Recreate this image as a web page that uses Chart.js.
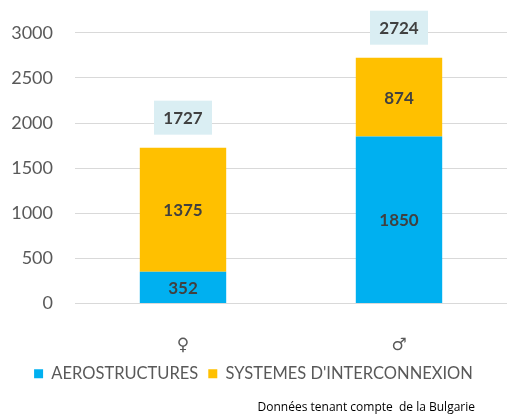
<!DOCTYPE html>
<html>
<head>
<meta charset="utf-8">
<script src="https://cdn.jsdelivr.net/npm/chart.js@4.4.1/dist/chart.umd.min.js"></script>
<style>
html,body{margin:0;padding:0;background:#fff;}
#wrap{width:507px;height:419px;}
</style>
</head>
<body>
<div id="wrap"><canvas id="c" width="507" height="419"></canvas></div>
<script>
const categories = ['\u2640', '\u2642'];
const aerostructures = [352, 1850];
const interconnexion = [1375, 874];
const totals = [1727, 2724];
const yTicks = [0, 500, 1000, 1500, 2000, 2500, 3000];
const seriesNames = ['AEROSTRUCTURES', "SYSTEMES D'INTERCONNEXION"];
const footnote = 'Données tenant compte  de la Bulgarie';

const FONT = 'Lato, "Liberation Sans", sans-serif';

const labelsPlugin = {
  id: 'labelsPlugin',
  afterDatasetsDraw(chart) {
    const ctx = chart.ctx;
    ctx.save();
    ctx.font = 'bold 17px ' + FONT;
    ctx.fillStyle = '#404040';
    ctx.textAlign = 'center';
    ctx.textBaseline = 'middle';
    chart.data.datasets.forEach((ds, di) => {
      const meta = chart.getDatasetMeta(di);
      meta.data.forEach((el, i) => {
        const y = (el.y + el.base) / 2;
        ctx.fillText(String(ds.data[i]), el.x, y + 1);
      });
    });
    const lastMeta = chart.getDatasetMeta(chart.data.datasets.length - 1);
    lastMeta.data.forEach((el, i) => {
      const top = chart.scales.y.getPixelForValue(totals[i]);
      const w = 58, h = 34;
      const bottom = top - 13;
      ctx.fillStyle = '#DAEEF3';
      ctx.fillRect(el.x - w / 2, bottom - h, w, h);
      ctx.fillStyle = '#404040';
      ctx.fillText(String(totals[i]), el.x, bottom - h / 2 + 1);
    });
    ctx.font = '12px "Open Sans", "Liberation Sans", sans-serif';
    ctx.fillStyle = '#000000';
    ctx.textAlign = 'right';
    ctx.fillText(footnote, chart.width - 32, chart.height - 11);
    ctx.restore();
  }
};

new Chart(document.getElementById('c'), {
  type: 'bar',
  data: {
    labels: categories,
    datasets: [
      { label: seriesNames[0], data: aerostructures, backgroundColor: '#00B0F0', borderWidth: 0 },
      { label: seriesNames[1], data: interconnexion, backgroundColor: '#FFC000', borderWidth: 0 }
    ]
  },
  options: {
    responsive: false,
    animation: false,
    devicePixelRatio: 1,
    layout: { padding: { top: 32, left: 0, right: 0, bottom: 27 } },
    datasets: { bar: { categoryPercentage: 1, barPercentage: 0.4 } },
    scales: {
      x: {
        stacked: true,
        afterFit(scale) { scale.height = 52; },
        grid: { display: false, drawTicks: false },
        border: { display: false },
        ticks: { font: { family: '"DejaVu Sans", sans-serif', size: 17 }, color: '#595959', padding: 32 }
      },
      y: {
        stacked: true,
        min: 0,
        max: 3000,
        afterFit(scale) { scale.width = 75; },
        afterBuildTicks(scale) { scale.ticks = yTicks.map(v => ({ value: v })); },
        grid: { color: '#D9D9D9', lineWidth: 1, drawTicks: false },
        border: { display: false },
        ticks: { font: { family: FONT, size: 18 }, color: '#595959', padding: 22, callback: v => String(v) }
      }
    },
    plugins: {
      legend: {
        position: 'bottom',
        labels: {
          boxWidth: 9, boxHeight: 9, padding: 10,
          font: { family: FONT, size: 16.5 }, color: '#595959'
        }
      },
      tooltip: { enabled: false }
    }
  },
  plugins: [labelsPlugin]
});
</script>
</body>
</html>
